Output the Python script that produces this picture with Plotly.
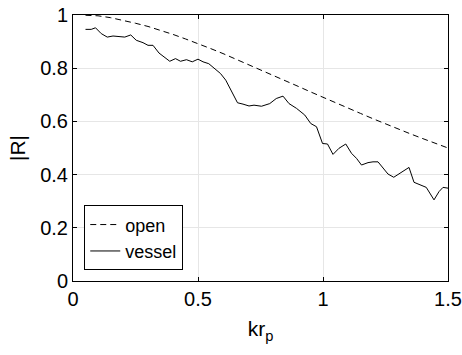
import plotly.graph_objects as go

open_x = [0.05, 0.1, 0.15, 0.2, 0.25, 0.3, 0.35, 0.4, 0.45, 0.5, 0.55, 0.6, 0.65, 0.7, 0.75,
          0.8, 0.85, 0.9, 0.95, 1.0, 1.05, 1.1, 1.15, 1.2, 1.25, 1.3, 1.35, 1.4, 1.45, 1.5]
open_y = [0.999, 0.997, 0.99, 0.98, 0.969, 0.957, 0.943, 0.927, 0.91, 0.893, 0.874, 0.855,
          0.835, 0.815, 0.795, 0.774, 0.753, 0.732, 0.711, 0.69, 0.67, 0.65, 0.63, 0.61,
          0.59, 0.571, 0.553, 0.535, 0.518, 0.5]

vessel_x = [0.05, 0.073, 0.09, 0.113, 0.137, 0.16, 0.207, 0.231, 0.253, 0.28, 0.30, 0.32,
            0.344, 0.367, 0.387, 0.41, 0.43, 0.454, 0.477, 0.50, 0.52, 0.543, 0.567, 0.59,
            0.611, 0.634, 0.658, 0.68, 0.704, 0.724, 0.754, 0.787, 0.813, 0.84, 0.864,
            0.894, 0.927, 0.951, 0.974, 0.998, 1.018, 1.04, 1.064, 1.091, 1.114, 1.134,
            1.154, 1.18, 1.2, 1.22, 1.24, 1.26, 1.283, 1.304, 1.323, 1.344, 1.364, 1.387,
            1.413, 1.444, 1.464, 1.48, 1.5]
vessel_y = [0.946, 0.946, 0.952, 0.93, 0.917, 0.921, 0.917, 0.925, 0.905, 0.896, 0.886, 0.886,
            0.857, 0.84, 0.826, 0.836, 0.826, 0.832, 0.824, 0.834, 0.824, 0.817, 0.799, 0.78,
            0.755, 0.711, 0.67, 0.665, 0.658, 0.661, 0.657, 0.667, 0.686, 0.695, 0.667,
            0.649, 0.624, 0.592, 0.58, 0.517, 0.515, 0.476, 0.499, 0.515, 0.48, 0.461,
            0.436, 0.445, 0.448, 0.448, 0.424, 0.402, 0.39, 0.402, 0.415, 0.427, 0.371, 0.361,
            0.352, 0.305, 0.336, 0.352, 0.349]

x_ticks = [0, 0.5, 1, 1.5]
x_ticklabels = ["0", "0.5", "1", "1.5"]
y_ticks = [0, 0.2, 0.4, 0.6, 0.8, 1]
y_ticklabels = ["0", "0.2", "0.4", "0.6", "0.8", "1"]

FONT = "Liberation Sans, Arial, Helvetica, sans-serif"

fig = go.Figure()
fig.add_trace(go.Scatter(x=open_x, y=open_y, mode="lines", name="open",
                         line=dict(color="black", width=1, dash="6px,4px")))
fig.add_trace(go.Scatter(x=vessel_x, y=vessel_y, mode="lines", name="vessel",
                         line=dict(color="black", width=1)))

axis_common = dict(showline=True, linecolor="black", linewidth=1, mirror="ticks",
                   ticks="inside", ticklen=4, tickcolor="black", automargin=False,
                   showgrid=True, gridcolor="#e6e6e6", gridwidth=1, zeroline=False,
                   tickfont=dict(family=FONT, size=20, color="black"))

fig.update_layout(
    width=462, height=355,
    margin=dict(l=73, r=14, t=15, b=74),
    paper_bgcolor="white", plot_bgcolor="white",
    font=dict(family=FONT, size=20, color="black"),
    xaxis=dict(range=[0, 1.5], tickvals=x_ticks, ticktext=x_ticklabels,
               title=dict(text="kr<sub>p</sub>", font=dict(family=FONT, size=21), standoff=12),
               **axis_common),
    yaxis=dict(range=[0, 1], tickvals=y_ticks, ticktext=y_ticklabels,
               title=dict(text="|R|", font=dict(family=FONT, size=21), standoff=8),
               **axis_common),
    legend=dict(x=0.03, y=0.04, xanchor="left", yanchor="bottom",
                bgcolor="white", bordercolor="black", borderwidth=1,
                font=dict(family=FONT, size=18, color="black"),
                itemwidth=30, tracegroupgap=0),
    showlegend=True,
)

fig.write_html("out.html")
